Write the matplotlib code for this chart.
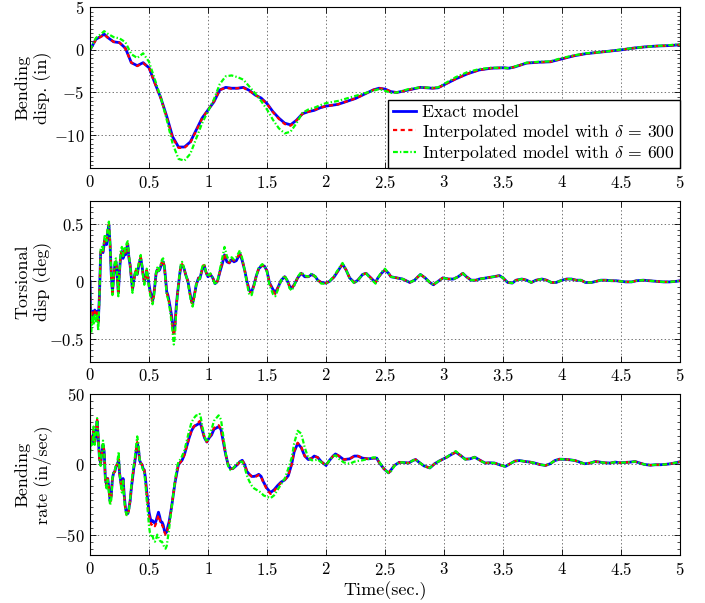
import matplotlib
matplotlib.use("Agg")
import matplotlib.pyplot as plt
from matplotlib import ticker

plt.rcParams["font.family"] = "serif"
plt.rcParams["font.serif"] = ["cmr10", "DejaVu Serif"]
plt.rcParams["mathtext.fontset"] = "cm"
plt.rcParams["axes.formatter.use_mathtext"] = True
plt.rcParams["lines.scale_dashes"] = False

# ---- bending displacement (in) ----
t_disp = [0, 0.05, 0.1, 0.12, 0.15, 0.2, 0.25, 0.3, 0.35, 0.4, 0.45, 0.5, 0.55, 0.6, 0.65,
          0.7, 0.75, 0.8, 0.85, 0.9, 0.95, 1.0, 1.05, 1.1, 1.15, 1.2, 1.25, 1.3, 1.35, 1.4,
          1.45, 1.5, 1.55, 1.6, 1.65, 1.7, 1.75, 1.8, 1.85, 1.9, 1.95, 2.0, 2.1, 2.25, 2.4,
          2.45, 2.5, 2.55, 2.6, 2.7, 2.8, 2.9, 2.95, 3.0, 3.1, 3.2, 3.3, 3.4, 3.5, 3.55, 3.6,
          3.7, 3.8, 3.9, 4.0, 4.1, 4.2, 4.3, 4.4, 4.5, 4.6, 4.7, 4.8, 4.9, 5.0]
disp_exact = [0.0, 1.25, 1.65, 1.85, 1.45, 0.95, 0.85, 0.2, -1.5, -1.85, -1.5, -2.1, -3.9, -5.65, -7.8,
              -10.2, -11.4, -11.4, -10.8, -9.4, -8.0, -7.05, -6.1, -4.7, -4.4, -4.5, -4.5, -4.4, -4.75, -5.3,
              -5.65, -6.3, -7.25, -8.0, -8.6, -8.8, -8.25, -7.5, -7.25, -7.1, -6.8, -6.6, -6.4, -5.7, -4.7,
              -4.5, -4.6, -4.9, -5.0, -4.7, -4.4, -4.5, -4.45, -4.1, -3.4, -2.8, -2.35, -2.15, -2.1, -2.15, -2.0,
              -1.55, -1.45, -1.4, -1.05, -0.7, -0.45, -0.3, -0.15, 0.0, 0.2, 0.35, 0.45, 0.5, 0.6]
disp_d300 = [0.0, 1.2, 1.6, 1.8, 1.45, 0.95, 0.85, 0.15, -1.5, -1.9, -1.55, -2.1, -3.95, -5.7, -7.9,
             -10.3, -11.5, -11.5, -10.9, -9.5, -8.05, -7.05, -6.05, -4.7, -4.45, -4.55, -4.5, -4.45, -4.8, -5.3,
             -5.7, -6.35, -7.3, -8.1, -8.7, -8.9, -8.3, -7.5, -7.25, -7.05, -6.8, -6.6, -6.4, -5.7, -4.7,
             -4.5, -4.6, -4.9, -5.0, -4.7, -4.4, -4.5, -4.45, -4.1, -3.4, -2.8, -2.35, -2.15, -2.1, -2.15, -2.0,
             -1.55, -1.45, -1.4, -1.05, -0.7, -0.45, -0.3, -0.15, 0.0, 0.2, 0.35, 0.45, 0.5, 0.6]
disp_d600 = [0.0, 1.4, 1.95, 2.2, 1.9, 1.5, 1.35, 0.9, -0.5, -0.95, -0.4, -1.4, -3.5, -5.6, -8.2,
             -11.0, -12.8, -13.0, -12.2, -10.4, -8.6, -7.2, -5.8, -4.0, -3.1, -3.0, -3.2, -3.5, -4.3, -5.1,
             -6.0, -7.0, -8.2, -9.2, -9.8, -9.6, -8.6, -7.4, -7.0, -6.8, -6.5, -6.25, -6.0, -5.4, -4.8,
             -4.6, -4.8, -5.05, -5.0, -4.6, -4.4, -4.45, -4.4, -4.0, -3.2, -2.6, -2.25, -2.1, -2.1, -2.15, -1.95,
             -1.5, -1.4, -1.35, -0.95, -0.65, -0.4, -0.3, -0.15, 0.05, 0.2, 0.35, 0.45, 0.55, 0.65]

# ---- torsional displacement (deg) ----
t_tors = [0.0, 0.005, 0.01, 0.02, 0.03, 0.04, 0.05, 0.06, 0.07, 0.08, 0.09, 0.1, 0.11, 0.125, 0.14,
          0.15, 0.16, 0.17, 0.18, 0.19, 0.2, 0.21, 0.22, 0.23, 0.24, 0.25, 0.26, 0.27, 0.28, 0.29,
          0.3, 0.31, 0.32, 0.33, 0.34, 0.35, 0.36, 0.37, 0.38, 0.39, 0.4, 0.41, 0.42, 0.43, 0.44,
          0.45, 0.46, 0.47, 0.48, 0.49, 0.5, 0.51, 0.52, 0.53, 0.54, 0.55, 0.56, 0.57, 0.58, 0.59,
          0.6, 0.61, 0.62, 0.63, 0.64, 0.65, 0.66, 0.67, 0.68, 0.69, 0.7, 0.71, 0.72, 0.73, 0.74,
          0.75, 0.76, 0.77, 0.78, 0.79, 0.8, 0.81, 0.82, 0.83, 0.84, 0.85, 0.86, 0.87, 0.88, 0.89,
          0.9, 0.91, 0.92, 0.93, 0.94, 0.95, 0.96, 0.97, 0.98, 0.99, 1.0, 1.02, 1.04, 1.06, 1.08,
          1.1, 1.12, 1.14, 1.16, 1.18, 1.2, 1.22, 1.24, 1.27, 1.29, 1.31, 1.33, 1.35, 1.37, 1.39,
          1.41, 1.43, 1.46, 1.48, 1.5, 1.52, 1.55, 1.57, 1.59, 1.62, 1.65, 1.67, 1.69, 1.71, 1.73,
          1.76, 1.79, 1.82, 1.85, 1.88, 1.91, 1.93, 1.96, 2.0, 2.03, 2.07, 2.12, 2.14, 2.17, 2.2,
          2.24, 2.27, 2.31, 2.34, 2.37, 2.4, 2.42, 2.44, 2.47, 2.5, 2.53, 2.55, 2.6, 2.65, 2.71,
          2.75, 2.8, 2.84, 2.88, 2.91, 2.95, 2.99, 3.04, 3.08, 3.12, 3.16, 3.19, 3.23, 3.27, 3.3,
          3.36, 3.42, 3.47, 3.5, 3.54, 3.58, 3.61, 3.66, 3.7, 3.74, 3.78, 3.83, 3.87, 3.91, 3.95,
          4.0, 4.04, 4.08, 4.12, 4.16, 4.2, 4.25, 4.29, 4.33, 4.37, 4.42, 4.46, 4.5, 4.54, 4.59,
          4.63, 4.69, 4.74, 4.8, 4.86, 4.91, 4.97, 5.0]
tors_exact = [0.0, -0.32, -0.35, -0.26, -0.3, -0.25, -0.29, -0.26, -0.35, -0.12, 0.25, 0.27, 0.25, 0.36, 0.32,
              0.43, 0.49, 0.32, 0.06, -0.09, 0.03, 0.14, 0.17, 0.06, -0.1, 0.09, 0.22, 0.26, 0.2, 0.26,
              0.23, 0.29, 0.32, 0.2, 0.14, 0.03, -0.07, 0.0, 0.06, 0.09, 0.06, 0.12, 0.17, 0.2, 0.14,
              0.06, 0.0, 0.03, 0.09, 0.04, -0.03, -0.09, -0.12, -0.17, -0.12, -0.03, 0.07, 0.1, 0.09, 0.1,
              0.13, 0.16, 0.17, 0.13, 0.03, -0.09, -0.12, -0.17, -0.23, -0.29, -0.38, -0.45, -0.38, -0.23, -0.12,
              -0.03, 0.06, 0.13, 0.14, 0.13, 0.1, 0.06, 0.03, 0.0, -0.06, -0.12, -0.17, -0.19, -0.14, -0.09,
              -0.03, 0.0, 0.03, 0.02, 0.06, 0.1, 0.13, 0.13, 0.09, 0.06, 0.04, 0.06, 0.03, -0.02, 0.0,
              0.08, 0.15, 0.23, 0.17, 0.16, 0.19, 0.17, 0.18, 0.24, 0.18, 0.1, 0.0, -0.08, -0.09, -0.03,
              0.05, 0.11, 0.14, 0.13, 0.09, -0.01, -0.07, -0.1, -0.06, 0.01, 0.04, 0.01, -0.04, -0.06, -0.03,
              0.03, 0.07, 0.04, 0.04, 0.06, 0.04, 0.01, -0.01, -0.015, 0.0, 0.04, 0.12, 0.15, 0.1, 0.03,
              -0.01, 0.01, 0.06, 0.07, 0.04, 0.01, -0.01, 0.03, 0.07, 0.1, 0.07, 0.04, 0.03, 0.02, -0.01,
              0.01, 0.06, 0.03, -0.01, -0.03, 0.0, 0.03, 0.02, 0.02, 0.04, 0.07, 0.04, 0.01, 0.01, 0.02,
              0.03, 0.04, 0.05, 0.03, -0.01, -0.015, 0.01, 0.02, 0.01, -0.01, 0.01, 0.02, 0.01, -0.01, -0.01,
              0.01, 0.02, 0.02, 0.01, 0.01, -0.01, -0.01, 0.0, 0.01, 0.01, 0.005, 0.005, 0.0, -0.005, -0.005,
              0.005, 0.01, 0.005, 0.0, -0.005, -0.005, 0.0, 0.005]
tors_d300 = [0.0, -0.34, -0.38, -0.27, -0.32, -0.26, -0.31, -0.27, -0.37, -0.12, 0.26, 0.28, 0.26, 0.38, 0.33,
             0.45, 0.5, 0.33, 0.05, -0.1, 0.03, 0.15, 0.18, 0.06, -0.11, 0.09, 0.23, 0.27, 0.21, 0.27,
             0.24, 0.3, 0.33, 0.21, 0.14, 0.02, -0.08, 0.0, 0.06, 0.1, 0.06, 0.13, 0.18, 0.21, 0.14,
             0.05, -0.01, 0.03, 0.1, 0.04, -0.04, -0.1, -0.13, -0.18, -0.13, -0.03, 0.07, 0.11, 0.09, 0.11,
             0.14, 0.17, 0.18, 0.13, 0.02, -0.1, -0.13, -0.18, -0.24, -0.31, -0.4, -0.47, -0.4, -0.24, -0.12,
             -0.03, 0.06, 0.14, 0.15, 0.13, 0.1, 0.06, 0.03, 0.0, -0.07, -0.13, -0.18, -0.2, -0.15, -0.09,
             -0.03, 0.0, 0.03, 0.02, 0.06, 0.1, 0.14, 0.14, 0.09, 0.06, 0.04, 0.06, 0.03, -0.02, 0.0,
             0.08, 0.16, 0.24, 0.18, 0.16, 0.2, 0.18, 0.19, 0.25, 0.19, 0.1, 0.0, -0.09, -0.1, -0.03,
             0.05, 0.11, 0.14, 0.13, 0.09, -0.01, -0.08, -0.11, -0.06, 0.01, 0.04, 0.01, -0.04, -0.06, -0.03,
             0.03, 0.07, 0.04, 0.04, 0.06, 0.04, 0.01, -0.01, -0.015, 0.0, 0.04, 0.12, 0.15, 0.1, 0.03,
             -0.01, 0.01, 0.06, 0.07, 0.04, 0.01, -0.01, 0.03, 0.07, 0.1, 0.07, 0.04, 0.03, 0.02, -0.01,
             0.01, 0.06, 0.03, -0.01, -0.03, 0.0, 0.03, 0.02, 0.02, 0.04, 0.07, 0.04, 0.01, 0.01, 0.02,
             0.03, 0.04, 0.05, 0.03, -0.01, -0.015, 0.01, 0.02, 0.01, -0.01, 0.01, 0.02, 0.01, -0.01, -0.01,
             0.01, 0.02, 0.02, 0.01, 0.01, -0.01, -0.01, 0.0, 0.01, 0.01, 0.005, 0.005, 0.0, -0.005, -0.005,
             0.005, 0.01, 0.005, 0.0, -0.005, -0.005, 0.0, 0.005]
tors_d600 = [0.0, -0.4, -0.45, -0.3, -0.38, -0.28, -0.36, -0.3, -0.43, -0.12, 0.28, 0.3, 0.27, 0.41, 0.35,
             0.47, 0.52, 0.34, 0.04, -0.12, 0.04, 0.18, 0.2, 0.05, -0.13, 0.1, 0.26, 0.3, 0.22, 0.3,
             0.26, 0.33, 0.35, 0.22, 0.14, 0.01, -0.1, 0.0, 0.07, 0.11, 0.06, 0.14, 0.2, 0.23, 0.14,
             0.04, -0.03, 0.03, 0.11, 0.04, -0.05, -0.12, -0.15, -0.2, -0.15, -0.03, 0.08, 0.12, 0.09, 0.12,
             0.15, 0.19, 0.2, 0.13, 0.01, -0.12, -0.15, -0.2, -0.27, -0.35, -0.45, -0.55, -0.47, -0.27, -0.13,
             -0.03, 0.07, 0.15, 0.17, 0.14, 0.1, 0.06, 0.03, -0.01, -0.08, -0.14, -0.2, -0.22, -0.17, -0.1,
             -0.03, 0.0, 0.03, 0.02, 0.07, 0.12, 0.15, 0.14, 0.09, 0.06, 0.04, 0.07, 0.03, -0.03, 0.0,
             0.1, 0.2, 0.3, 0.22, 0.18, 0.21, 0.19, 0.21, 0.27, 0.2, 0.1, -0.02, -0.12, -0.12, -0.04,
             0.05, 0.12, 0.15, 0.13, 0.08, -0.03, -0.11, -0.13, -0.08, 0.01, 0.05, 0.01, -0.06, -0.08, -0.04,
             0.04, 0.08, 0.05, 0.04, 0.07, 0.04, 0.01, -0.02, -0.02, 0.0, 0.05, 0.13, 0.16, 0.1, 0.03,
             -0.02, 0.01, 0.06, 0.07, 0.03, 0.0, -0.02, 0.03, 0.08, 0.11, 0.07, 0.04, 0.03, 0.02, -0.01,
             0.01, 0.06, 0.03, -0.01, -0.03, 0.0, 0.03, 0.02, 0.02, 0.04, 0.07, 0.04, 0.01, 0.01, 0.02,
             0.03, 0.04, 0.05, 0.03, -0.01, -0.015, 0.01, 0.02, 0.01, -0.01, 0.01, 0.02, 0.01, -0.01, -0.01,
             0.01, 0.02, 0.02, 0.01, 0.01, -0.01, -0.01, 0.0, 0.01, 0.01, 0.005, 0.005, 0.0, -0.005, -0.005,
             0.005, 0.01, 0.005, 0.0, -0.005, -0.005, 0.0, 0.005]

# ---- bending rate (in/sec) ----
t_rate = [0.0, 0.01, 0.02, 0.03, 0.04, 0.05, 0.06, 0.07, 0.08, 0.09, 0.1, 0.11, 0.12, 0.13, 0.14,
          0.15, 0.16, 0.17, 0.18, 0.19, 0.2, 0.21, 0.22, 0.23, 0.243, 0.25, 0.26, 0.27, 0.28, 0.29,
          0.3, 0.31, 0.32, 0.33, 0.34, 0.35, 0.36, 0.37, 0.38, 0.39, 0.4, 0.41, 0.42, 0.43, 0.44,
          0.45, 0.46, 0.47, 0.48, 0.49, 0.5, 0.51, 0.52, 0.53, 0.54, 0.55, 0.56, 0.57, 0.58, 0.59,
          0.6, 0.61, 0.62, 0.63, 0.64, 0.65, 0.66, 0.67, 0.68, 0.69, 0.7, 0.71, 0.72, 0.73, 0.74,
          0.75, 0.77, 0.78, 0.8, 0.82, 0.84, 0.86, 0.88, 0.9, 0.92, 0.93, 0.94, 0.95, 0.97, 0.99,
          1.01, 1.03, 1.05, 1.07, 1.09, 1.11, 1.13, 1.15, 1.17, 1.19, 1.21, 1.23, 1.25, 1.27, 1.29,
          1.31, 1.33, 1.35, 1.37, 1.39, 1.41, 1.43, 1.45, 1.47, 1.5, 1.53, 1.56, 1.59, 1.62, 1.65,
          1.68, 1.71, 1.73, 1.76, 1.79, 1.82, 1.85, 1.88, 1.9, 1.93, 1.96, 2.0, 2.03, 2.06, 2.08,
          2.11, 2.15, 2.2, 2.24, 2.27, 2.31, 2.36, 2.4, 2.43, 2.45, 2.49, 2.53, 2.55, 2.58, 2.62,
          2.65, 2.7, 2.74, 2.76, 2.79, 2.83, 2.88, 2.92, 2.96, 3.02, 3.06, 3.1, 3.14, 3.18, 3.22,
          3.26, 3.31, 3.35, 3.39, 3.43, 3.47, 3.52, 3.56, 3.6, 3.64, 3.69, 3.73, 3.77, 3.81, 3.86,
          3.9, 3.94, 3.98, 4.03, 4.07, 4.11, 4.15, 4.19, 4.24, 4.28, 4.32, 4.36, 4.41, 4.45, 4.49,
          4.53, 4.58, 4.62, 4.66, 4.7, 4.75, 4.79, 4.83, 4.87, 4.92, 4.96, 5.0]
rate_exact = [13, 19, 15, 24, 16, 21, 31, 19, 4.5, 1, 8, 14, 9, -10, -14.5,
              -10, -17, -26, -22, -10, -6, -5, -1.5, 0, 3, -6, -12, -17, -10, -22,
              -31, -35, -35, -31, -26, -17, -10, -3, 2, 9, 15, 12, 3, 1, 0,
              -3, -4, -10, -19, -26, -34, -38, -41, -40, -41, -42, -40, -37, -34, -37,
              -41, -41, -43, -47, -49, -48, -44, -41, -36, -31, -25, -19, -13, -8.5, -4,
              0, 2, 3, 7, 13, 19, 24, 27, 28, 29, 30, 28, 25, 19, 16,
              19, 21, 25, 26, 27, 25, 16, 7, 0, -3, -3, -1.5, 0, 2, 3,
              0, -5, -7, -8.5, -8.5, -8, -7, -8.5, -12.5, -17, -20, -18, -15, -12.5, -11,
              -8, 0.5, 9, 15, 12, 6, 3.5, 4.5, 6, 5, 2, -0.7, 3, 6, 7.5,
              6, 3.5, 4, 6, 6, 4.5, 4, 4.5, 4.5, 1.5, -3, -6, -4, -0.7, 1.5,
              1.5, 1, 3, 3.5, 1.5, -1, -2.5, 0.5, 2.5, 5, 7, 8.8, 6.4, 3.8, 4,
              5.2, 2.8, 1, 1.2, 1, -0.2, -1.4, 0.5, 2.4, 2.8, 2.1, 1.7, 1, 0, -0.7,
              0.5, 2.8, 3.8, 3.6, 3.3, 2.8, 1.7, 0.5, 1, 2.1, 1.7, 1.2, 1, 1.7, 1.2,
              1.4, 1.7, 2.1, 1, 0, -0.5, -0.2, -0.2, 0, 0.5, 1.2, 1.9]
rate_d300 = [14, 20, 16, 25, 16, 22, 32, 19, 4, 0.5, 8, 15, 9, -11, -15,
             -10, -18, -27, -23, -10, -6, -5, -1.5, 0, 4, -6, -13, -18, -10, -23,
             -32, -36, -36, -32, -26, -17, -10, -3, 2, 10, 16, 12, 3, 1, 0,
             -3, -4, -11, -20, -28, -36, -40, -43, -42, -43, -44, -42, -39, -36, -39,
             -43, -43, -45, -48, -50, -49, -45, -42, -37, -31, -25, -19, -13, -8.5, -4,
             0, 2, 3, 7, 13, 19, 24, 27, 29, 30, 31, 29, 25, 19, 16,
             19, 22, 26, 27, 28, 25, 16, 7, 0, -3, -3, -1.5, 0, 2, 3,
             0, -5, -7, -8.5, -9, -8.5, -7.5, -9, -13, -18, -21, -19, -15.5, -13, -11,
             -8, 0.5, 9.5, 15.5, 12.5, 6, 3.5, 4.5, 6, 5, 2, -0.7, 3, 6, 7.5,
             6, 3.5, 4, 6, 6, 4.5, 4, 4.5, 4.5, 1.5, -3, -6, -4, -0.7, 1.5,
             1.5, 1, 3, 3.5, 1.5, -1, -2.5, 0.5, 2.5, 5, 7, 8.8, 6.4, 3.8, 4,
             5.2, 2.8, 1, 1.2, 1, -0.2, -1.4, 0.5, 2.4, 2.8, 2.1, 1.7, 1, 0, -0.7,
             0.5, 2.8, 3.8, 3.6, 3.3, 2.8, 1.7, 0.5, 1, 2.1, 1.7, 1.2, 1, 1.7, 1.2,
             1.4, 1.7, 2.1, 1, 0, -0.5, -0.2, -0.2, 0, 0.5, 1.2, 1.9]
rate_d600 = [8, 16, 13, 27, 14, 24, 33, 20, 3, -1, 9, 17, 10, -13, -17,
             -11, -20, -29, -25, -10, -5, -4, -0.5, 1, 9, -6, -14, -20, -11, -25,
             -33, -36, -36, -32, -25, -15, -7, -1, 5, 13, 20, 15, 4, 1, -1,
             -4, -6, -14, -25, -34, -44, -50, -52, -51, -54, -55, -53, -50, -52, -54,
             -55, -55, -57, -59, -60, -58, -52, -46, -39, -32, -25, -18, -11, -6, -1,
             2, 4, 6, 10, 17, 24, 30, 33, 35, 35, 36, 33, 28, 20, 16,
             20, 25, 31, 33, 35, 32, 20, 8, -1, -4, -3, -1, 1, 2, 2,
             -2, -8, -12, -15, -17, -18, -19, -20, -22, -23, -24, -22, -18, -14, -10,
             -3, 5, 15, 24, 22, 12, 4.5, 3, 3, 3.5, 1.5, -0.5, 3, 6, 6.5,
             4, 1.5, 0.5, 2, 2.5, 3, 4, 5, 5, 2, -3, -6, -5, -1, 1.5,
             1.5, 1, 3, 3.5, 1.5, -1, -2.5, 0.5, 2.5, 5, 7.5, 9.5, 6.5, 3.5, 4,
             5.2, 2.5, 1, 1.2, 1, -0.2, -1.4, 0.5, 2.4, 2.8, 2.1, 1.7, 1, 0, -0.7,
             0.5, 2.8, 3.8, 3.6, 3.3, 2.8, 1.7, 0.5, 1, 2.1, 1.7, 1.2, 1, 1.7, 1.2,
             1.4, 1.7, 2.1, 1, 0, -0.5, -0.2, -0.2, 0, 0.5, 1.2, 1.9]

labels = ["Exact model",
          r"Interpolated model with $\delta\,=\,300$",
          r"Interpolated model with $\delta\,=\,600$"]
panels = [
    (t_disp, disp_exact, disp_d300, disp_d600, "Bending\ndisp. (in)", (-13.9, 5.0), [-10, -5, 0, 5]),
    (t_tors, tors_exact, tors_d300, tors_d600, "Torsional\ndisp (deg)", (-0.7, 0.7), [-0.5, 0, 0.5]),
    (t_rate, rate_exact, rate_d300, rate_d600, "Bending\nrate (in/sec)", (-64.5, 50.0), [-50, 0, 50]),
]
boxes = [(0.1277, 0.7209, 0.8368, 0.2670),
         (0.1277, 0.4002, 0.8368, 0.2665),
         (0.1277, 0.0796, 0.8368, 0.2665)]

fmt = ticker.FuncFormatter(lambda v, p: "$%g$" % v)

fig = plt.figure(figsize=(7.05, 6.03), dpi=100)
for i, (t, ex, d3, d6, ylab, ylim, yt) in enumerate(panels):
    ax = fig.add_axes(boxes[i])
    ax.plot(t, ex, color="blue", lw=2.0, label=labels[0])
    ax.plot(t, d3, color="red", lw=1.6, dashes=(3, 2.5), label=labels[1])
    ax.plot(t, d6, color=(0, 1, 0), lw=1.6, dashes=(3.5, 1.5, 1, 1.5), label=labels[2])
    ax.set_xlim(0, 5)
    ax.set_ylim(*ylim)
    ax.set_xticks([0, 0.5, 1, 1.5, 2, 2.5, 3, 3.5, 4, 4.5, 5])
    ax.set_yticks(yt)
    ax.yaxis.set_minor_locator(ticker.AutoMinorLocator(10))
    ax.xaxis.set_major_formatter(fmt)
    ax.yaxis.set_major_formatter(fmt)
    ax.tick_params(which="both", direction="in", top=True, right=True, labelsize=12)
    ax.tick_params(which="major", length=4, width=0.6, pad=4)
    ax.tick_params(which="minor", length=2, width=0.5)
    ax.grid(True, which="major", linestyle=":", color="0.45", lw=0.7)
    for s in ax.spines.values():
        s.set_linewidth(0.8)
    ax.set_ylabel(ylab, fontsize=13, linespacing=1.25)
    ax.yaxis.set_label_coords(-0.064, 0.5)
    if i == 0:
        ax.legend(loc="lower right", borderaxespad=0, fancybox=False, edgecolor="black",
                  framealpha=1, fontsize=12.7, handlelength=1.3, labelspacing=0.1,
                  borderpad=0.28, handletextpad=0.35)
    if i == 2:
        ax.set_xlabel("Time(sec.)", fontsize=13, labelpad=3)

fig.savefig("out.png", dpi=100)
